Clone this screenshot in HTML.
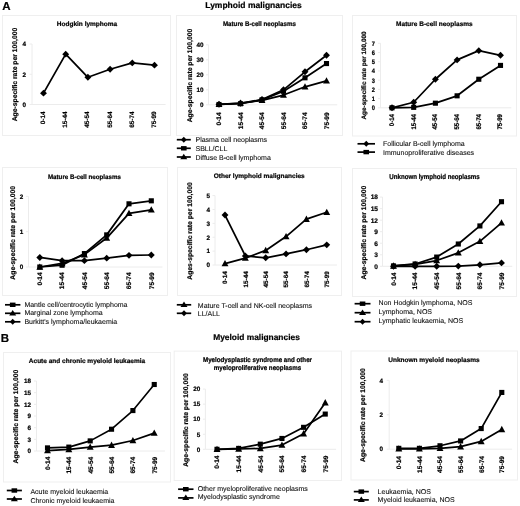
<!DOCTYPE html>
<html><head><meta charset="utf-8"><style>
html,body{margin:0;padding:0;background:#fff;width:520px;height:506px;overflow:hidden}
svg{display:block;text-rendering:geometricPrecision;font-family:"Liberation Sans", sans-serif;filter:grayscale(1) blur(0.35px)}
</style></head><body>
<svg width="520" height="506" viewBox="0 0 520 506">
<rect width="520" height="506" fill="#fff"/>
<text font-size="11.5" font-weight="bold" text-anchor="start" fill="#000" stroke="#000" stroke-width="0.2" transform="translate(2.2 10.3)">A</text>
<text font-size="11.5" font-weight="bold" text-anchor="start" fill="#000" stroke="#000" stroke-width="0.2" transform="translate(0.8 341.6)">B</text>
<text font-size="8.5" font-weight="bold" text-anchor="middle" fill="#000" stroke="#000" stroke-width="0.2" transform="translate(253.5 7.6)">Lymphoid malignancies</text>
<text font-size="8.4" font-weight="bold" text-anchor="middle" fill="#000" stroke="#000" stroke-width="0.2" transform="translate(256.5 339.8)">Myeloid malignancies</text>
<rect x="2.5" y="15.5" width="168" height="120" fill="none" stroke="#efefef" stroke-width="1"/>
<text font-size="6.5" font-weight="bold" text-anchor="middle" fill="#000" stroke="#000" stroke-width="0.2" transform="translate(87 26)">Hodgkin lymphoma</text>
<text font-size="6.8" font-weight="bold" text-anchor="middle" fill="#000" stroke="#000" stroke-width="0.2" transform="translate(17 74.5) rotate(-90)">Age-specific rate per 100,000</text>
<path d="M32 44V104.5H165.6" fill="none" stroke="#ececec" stroke-width="1"/>
<path d="M29.5 104.5H32" stroke="#ececec" stroke-width="1"/>
<text font-size="6.3" font-weight="bold" text-anchor="end" fill="#000" stroke="#000" stroke-width="0.2" transform="translate(26 106.77)">0</text>
<path d="M29.5 74.25H32" stroke="#ececec" stroke-width="1"/>
<text font-size="6.3" font-weight="bold" text-anchor="end" fill="#000" stroke="#000" stroke-width="0.2" transform="translate(26 76.52)">2</text>
<path d="M29.5 44H32" stroke="#ececec" stroke-width="1"/>
<text font-size="6.3" font-weight="bold" text-anchor="end" fill="#000" stroke="#000" stroke-width="0.2" transform="translate(26 46.27)">4</text>
<text font-size="6.4" font-weight="bold" text-anchor="end" fill="#000" stroke="#000" stroke-width="0.2" transform="translate(45 111.5) rotate(-90)">0-14</text>
<text font-size="6.4" font-weight="bold" text-anchor="end" fill="#000" stroke="#000" stroke-width="0.2" transform="translate(67.2 111.5) rotate(-90)">15-44</text>
<text font-size="6.4" font-weight="bold" text-anchor="end" fill="#000" stroke="#000" stroke-width="0.2" transform="translate(89.4 111.5) rotate(-90)">45-54</text>
<text font-size="6.4" font-weight="bold" text-anchor="end" fill="#000" stroke="#000" stroke-width="0.2" transform="translate(111.6 111.5) rotate(-90)">55-64</text>
<text font-size="6.4" font-weight="bold" text-anchor="end" fill="#000" stroke="#000" stroke-width="0.2" transform="translate(133.8 111.5) rotate(-90)">65-74</text>
<text font-size="6.4" font-weight="bold" text-anchor="end" fill="#000" stroke="#000" stroke-width="0.2" transform="translate(156 111.5) rotate(-90)">75-99</text>
<path d="M43.5 93.16L65.7 54.13L87.9 77.28L110.1 69.26L132.3 62.91L154.5 65.17" fill="none" stroke="#000" stroke-width="1.75" stroke-linejoin="round"/>
<path d="M43.5 89.71L46.95 93.16L43.5 96.61L40.05 93.16Z"/>
<path d="M65.7 50.68L69.15 54.13L65.7 57.58L62.25 54.13Z"/>
<path d="M87.9 73.83L91.35 77.28L87.9 80.73L84.45 77.28Z"/>
<path d="M110.1 65.81L113.55 69.26L110.1 72.71L106.65 69.26Z"/>
<path d="M132.3 59.46L135.75 62.91L132.3 66.36L128.85 62.91Z"/>
<path d="M154.5 61.72L157.95 65.17L154.5 68.62L151.05 65.17Z"/>
<rect x="176.5" y="15.5" width="166" height="120" fill="none" stroke="#efefef" stroke-width="1"/>
<text font-size="6.2" font-weight="bold" text-anchor="middle" fill="#000" stroke="#000" stroke-width="0.2" transform="translate(259.4 26) scale(1 1.08)">Mature B-cell neoplasms</text>
<text font-size="6.8" font-weight="bold" text-anchor="middle" fill="#000" stroke="#000" stroke-width="0.2" transform="translate(192 75.5) rotate(-90)">Age-specific rate per 100,000</text>
<path d="M208.5 44.8V104.8H337.25" fill="none" stroke="#ececec" stroke-width="1"/>
<path d="M206 104.8H208.5" stroke="#ececec" stroke-width="1"/>
<text font-size="6.3" font-weight="bold" text-anchor="end" fill="#000" stroke="#000" stroke-width="0.2" transform="translate(203.5 107.07)">0</text>
<path d="M206 89.8H208.5" stroke="#ececec" stroke-width="1"/>
<text font-size="6.3" font-weight="bold" text-anchor="end" fill="#000" stroke="#000" stroke-width="0.2" transform="translate(203.5 92.07)">10</text>
<path d="M206 74.8H208.5" stroke="#ececec" stroke-width="1"/>
<text font-size="6.3" font-weight="bold" text-anchor="end" fill="#000" stroke="#000" stroke-width="0.2" transform="translate(203.5 77.07)">20</text>
<path d="M206 59.8H208.5" stroke="#ececec" stroke-width="1"/>
<text font-size="6.3" font-weight="bold" text-anchor="end" fill="#000" stroke="#000" stroke-width="0.2" transform="translate(203.5 62.07)">30</text>
<path d="M206 44.8H208.5" stroke="#ececec" stroke-width="1"/>
<text font-size="6.3" font-weight="bold" text-anchor="end" fill="#000" stroke="#000" stroke-width="0.2" transform="translate(203.5 47.07)">40</text>
<text font-size="6.6" font-weight="bold" text-anchor="end" fill="#000" stroke="#000" stroke-width="0.2" transform="translate(221.38 112.3) rotate(-90)">0-14</text>
<text font-size="6.6" font-weight="bold" text-anchor="end" fill="#000" stroke="#000" stroke-width="0.2" transform="translate(242.88 112.3) rotate(-90)">15-44</text>
<text font-size="6.6" font-weight="bold" text-anchor="end" fill="#000" stroke="#000" stroke-width="0.2" transform="translate(264.38 112.3) rotate(-90)">45-54</text>
<text font-size="6.6" font-weight="bold" text-anchor="end" fill="#000" stroke="#000" stroke-width="0.2" transform="translate(285.88 112.3) rotate(-90)">55-64</text>
<text font-size="6.6" font-weight="bold" text-anchor="end" fill="#000" stroke="#000" stroke-width="0.2" transform="translate(307.38 112.3) rotate(-90)">65-74</text>
<text font-size="6.6" font-weight="bold" text-anchor="end" fill="#000" stroke="#000" stroke-width="0.2" transform="translate(328.88 112.3) rotate(-90)">75-99</text>
<path d="M219 104.35L240.5 103L262 100.3L283.5 95.05L305 86.8L326.5 80.8" fill="none" stroke="#000" stroke-width="1.75" stroke-linejoin="round"/>
<path d="M219 100.73L222.45 107.11L215.55 107.11Z"/>
<path d="M240.5 99.38L243.95 105.76L237.05 105.76Z"/>
<path d="M262 96.68L265.45 103.06L258.55 103.06Z"/>
<path d="M283.5 91.43L286.95 97.81L280.05 97.81Z"/>
<path d="M305 83.18L308.45 89.56L301.55 89.56Z"/>
<path d="M326.5 77.18L329.95 83.56L323.05 83.56Z"/>
<path d="M219 104.5L240.5 103.75L262 99.85L283.5 91.3L305 77.8L326.5 63.55" fill="none" stroke="#000" stroke-width="1.75" stroke-linejoin="round"/>
<rect x="216.45" y="101.95" width="5.1" height="5.1"/>
<rect x="237.95" y="101.2" width="5.1" height="5.1"/>
<rect x="259.45" y="97.3" width="5.1" height="5.1"/>
<rect x="280.95" y="88.75" width="5.1" height="5.1"/>
<rect x="302.45" y="75.25" width="5.1" height="5.1"/>
<rect x="323.95" y="61" width="5.1" height="5.1"/>
<path d="M219 104.35L240.5 103.3L262 99.55L283.5 89.8L305 71.8L326.5 55.3" fill="none" stroke="#000" stroke-width="1.75" stroke-linejoin="round"/>
<path d="M219 100.9L222.45 104.35L219 107.8L215.55 104.35Z"/>
<path d="M240.5 99.85L243.95 103.3L240.5 106.75L237.05 103.3Z"/>
<path d="M262 96.1L265.45 99.55L262 103L258.55 99.55Z"/>
<path d="M283.5 86.35L286.95 89.8L283.5 93.25L280.05 89.8Z"/>
<path d="M305 68.35L308.45 71.8L305 75.25L301.55 71.8Z"/>
<path d="M326.5 51.85L329.95 55.3L326.5 58.75L323.05 55.3Z"/>
<path d="M176.8 139.7H190.8" stroke="#000" stroke-width="1.7"/>
<path d="M183.8 136.7L186.7 139.7L183.8 142.7L180.9 139.7Z"/>
<text font-size="7" font-weight="normal" text-anchor="start" fill="#111" stroke="#111" stroke-width="0.1" transform="translate(195.5 142.22)">Plasma cell neoplasms</text>
<path d="M176.8 148.3H190.8" stroke="#000" stroke-width="1.7"/>
<rect x="181" y="146.1" width="5.6" height="4.4"/>
<text font-size="7" font-weight="normal" text-anchor="start" fill="#111" stroke="#111" stroke-width="0.1" transform="translate(195.5 150.82)">SBLL/CLL</text>
<path d="M176.8 157H190.8" stroke="#000" stroke-width="1.7"/>
<path d="M183.8 153.7L187.3 159.2L180.3 159.2Z"/>
<text font-size="7" font-weight="normal" text-anchor="start" fill="#111" stroke="#111" stroke-width="0.1" transform="translate(195.5 159.52)">Diffuse B-cell lymphoma</text>
<rect x="352.5" y="15.5" width="164" height="120.5" fill="none" stroke="#efefef" stroke-width="1"/>
<text font-size="6.5" font-weight="bold" text-anchor="middle" fill="#000" stroke="#000" stroke-width="0.2" transform="translate(434.4 25.7)">Mature B-cell neoplasms</text>
<text font-size="6.4" font-weight="bold" text-anchor="middle" fill="#000" stroke="#000" stroke-width="0.2" transform="translate(366.3 75.5) rotate(-90)">Age-specific rate per 100,000</text>
<path d="M380.5 43.3V107.8H511.35" fill="none" stroke="#ececec" stroke-width="1"/>
<path d="M378 107.8H380.5" stroke="#ececec" stroke-width="1"/>
<text font-size="5.7" font-weight="bold" text-anchor="end" fill="#000" stroke="#000" stroke-width="0.2" transform="translate(375 110.16) scale(1 1.15)">0</text>
<path d="M378 98.59H380.5" stroke="#ececec" stroke-width="1"/>
<text font-size="5.7" font-weight="bold" text-anchor="end" fill="#000" stroke="#000" stroke-width="0.2" transform="translate(375 100.95) scale(1 1.15)">1</text>
<path d="M378 89.37H380.5" stroke="#ececec" stroke-width="1"/>
<text font-size="5.7" font-weight="bold" text-anchor="end" fill="#000" stroke="#000" stroke-width="0.2" transform="translate(375 91.73) scale(1 1.15)">2</text>
<path d="M378 80.16H380.5" stroke="#ececec" stroke-width="1"/>
<text font-size="5.7" font-weight="bold" text-anchor="end" fill="#000" stroke="#000" stroke-width="0.2" transform="translate(375 82.52) scale(1 1.15)">3</text>
<path d="M378 70.94H380.5" stroke="#ececec" stroke-width="1"/>
<text font-size="5.7" font-weight="bold" text-anchor="end" fill="#000" stroke="#000" stroke-width="0.2" transform="translate(375 73.3) scale(1 1.15)">4</text>
<path d="M378 61.73H380.5" stroke="#ececec" stroke-width="1"/>
<text font-size="5.7" font-weight="bold" text-anchor="end" fill="#000" stroke="#000" stroke-width="0.2" transform="translate(375 64.09) scale(1 1.15)">5</text>
<path d="M378 52.51H380.5" stroke="#ececec" stroke-width="1"/>
<text font-size="5.7" font-weight="bold" text-anchor="end" fill="#000" stroke="#000" stroke-width="0.2" transform="translate(375 54.87) scale(1 1.15)">6</text>
<path d="M378 43.3H380.5" stroke="#ececec" stroke-width="1"/>
<text font-size="5.7" font-weight="bold" text-anchor="end" fill="#000" stroke="#000" stroke-width="0.2" transform="translate(375 45.66) scale(1 1.15)">7</text>
<text font-size="6.1" font-weight="bold" text-anchor="end" fill="#000" stroke="#000" stroke-width="0.2" transform="translate(393.82 114) rotate(-90) scale(1 1.1)">0-14</text>
<text font-size="6.1" font-weight="bold" text-anchor="end" fill="#000" stroke="#000" stroke-width="0.2" transform="translate(415.52 114) rotate(-90) scale(1 1.1)">15-44</text>
<text font-size="6.1" font-weight="bold" text-anchor="end" fill="#000" stroke="#000" stroke-width="0.2" transform="translate(437.22 114) rotate(-90) scale(1 1.1)">45-54</text>
<text font-size="6.1" font-weight="bold" text-anchor="end" fill="#000" stroke="#000" stroke-width="0.2" transform="translate(458.92 114) rotate(-90) scale(1 1.1)">55-64</text>
<text font-size="6.1" font-weight="bold" text-anchor="end" fill="#000" stroke="#000" stroke-width="0.2" transform="translate(480.62 114) rotate(-90) scale(1 1.1)">65-74</text>
<text font-size="6.1" font-weight="bold" text-anchor="end" fill="#000" stroke="#000" stroke-width="0.2" transform="translate(502.32 114) rotate(-90) scale(1 1.1)">75-99</text>
<path d="M392 107.8L413.7 107.34L435.4 103.19L457.1 95.82L478.8 79.24L500.5 65.41" fill="none" stroke="#000" stroke-width="1.75" stroke-linejoin="round"/>
<rect x="389.45" y="105.25" width="5.1" height="5.1"/>
<rect x="411.15" y="104.79" width="5.1" height="5.1"/>
<rect x="432.85" y="100.64" width="5.1" height="5.1"/>
<rect x="454.55" y="93.27" width="5.1" height="5.1"/>
<rect x="476.25" y="76.69" width="5.1" height="5.1"/>
<rect x="497.95" y="62.86" width="5.1" height="5.1"/>
<path d="M392 107.8L413.7 102.27L435.4 79.24L457.1 59.89L478.8 50.67L500.5 55.28" fill="none" stroke="#000" stroke-width="1.75" stroke-linejoin="round"/>
<path d="M392 104.35L395.45 107.8L392 111.25L388.55 107.8Z"/>
<path d="M413.7 98.82L417.15 102.27L413.7 105.72L410.25 102.27Z"/>
<path d="M435.4 75.79L438.85 79.24L435.4 82.69L431.95 79.24Z"/>
<path d="M457.1 56.44L460.55 59.89L457.1 63.34L453.65 59.89Z"/>
<path d="M478.8 47.22L482.25 50.67L478.8 54.12L475.35 50.67Z"/>
<path d="M500.5 51.83L503.95 55.28L500.5 58.73L497.05 55.28Z"/>
<path d="M357.5 143.8H375" stroke="#000" stroke-width="1.7"/>
<path d="M366.25 140.8L369.15 143.8L366.25 146.8L363.35 143.8Z"/>
<text font-size="7" font-weight="normal" text-anchor="start" fill="#111" stroke="#111" stroke-width="0.1" transform="translate(383 146.32)">Follicular B-cell lymphoma</text>
<path d="M357.5 152.1H375" stroke="#000" stroke-width="1.7"/>
<rect x="363.45" y="149.9" width="5.6" height="4.4"/>
<text font-size="7" font-weight="normal" text-anchor="start" fill="#111" stroke="#111" stroke-width="0.1" transform="translate(383 154.62)">Immunoproliferative diseases</text>
<rect x="2.5" y="167.5" width="165" height="128" fill="none" stroke="#efefef" stroke-width="1"/>
<text font-size="6.2" font-weight="bold" text-anchor="middle" fill="#000" stroke="#000" stroke-width="0.2" transform="translate(84.4 178.6) scale(1 1.05)">Mature B-cell neoplasms</text>
<text font-size="6.8" font-weight="bold" text-anchor="middle" fill="#000" stroke="#000" stroke-width="0.2" transform="translate(15 232.8) rotate(-90)">Age-specific rate per 100,000</text>
<path d="M28.5 196.4V267H162.45" fill="none" stroke="#ececec" stroke-width="1"/>
<path d="M26 267H28.5" stroke="#ececec" stroke-width="1"/>
<text font-size="6.3" font-weight="bold" text-anchor="end" fill="#000" stroke="#000" stroke-width="0.2" transform="translate(23.3 269.27)">0</text>
<path d="M26 231.7H28.5" stroke="#ececec" stroke-width="1"/>
<text font-size="6.3" font-weight="bold" text-anchor="end" fill="#000" stroke="#000" stroke-width="0.2" transform="translate(23.3 233.97)">1</text>
<path d="M26 196.4H28.5" stroke="#ececec" stroke-width="1"/>
<text font-size="6.3" font-weight="bold" text-anchor="end" fill="#000" stroke="#000" stroke-width="0.2" transform="translate(23.3 198.67)">2</text>
<text font-size="6.6" font-weight="bold" text-anchor="end" fill="#000" stroke="#000" stroke-width="0.2" transform="translate(42.18 272.3) rotate(-90)">0-14</text>
<text font-size="6.6" font-weight="bold" text-anchor="end" fill="#000" stroke="#000" stroke-width="0.2" transform="translate(64.48 272.3) rotate(-90)">15-44</text>
<text font-size="6.6" font-weight="bold" text-anchor="end" fill="#000" stroke="#000" stroke-width="0.2" transform="translate(86.78 272.3) rotate(-90)">45-54</text>
<text font-size="6.6" font-weight="bold" text-anchor="end" fill="#000" stroke="#000" stroke-width="0.2" transform="translate(109.08 272.3) rotate(-90)">55-64</text>
<text font-size="6.6" font-weight="bold" text-anchor="end" fill="#000" stroke="#000" stroke-width="0.2" transform="translate(131.38 272.3) rotate(-90)">65-74</text>
<text font-size="6.6" font-weight="bold" text-anchor="end" fill="#000" stroke="#000" stroke-width="0.2" transform="translate(153.68 272.3) rotate(-90)">75-99</text>
<path d="M39.8 257.47L62.1 260.65L84.4 260.65L106.7 258.18L129 255.35L151.3 255" fill="none" stroke="#000" stroke-width="1.75" stroke-linejoin="round"/>
<path d="M39.8 254.02L43.25 257.47L39.8 260.92L36.35 257.47Z"/>
<path d="M62.1 257.2L65.55 260.65L62.1 264.1L58.65 260.65Z"/>
<path d="M84.4 257.2L87.85 260.65L84.4 264.1L80.95 260.65Z"/>
<path d="M106.7 254.73L110.15 258.18L106.7 261.62L103.25 258.18Z"/>
<path d="M129 251.9L132.45 255.35L129 258.8L125.55 255.35Z"/>
<path d="M151.3 251.55L154.75 255L151.3 258.45L147.85 255Z"/>
<path d="M39.8 267L62.1 263.47L84.4 254.65L106.7 238.05L129 213.34L151.3 209.81" fill="none" stroke="#000" stroke-width="1.75" stroke-linejoin="round"/>
<path d="M39.8 263.38L43.25 269.76L36.35 269.76Z"/>
<path d="M62.1 259.85L65.55 266.23L58.65 266.23Z"/>
<path d="M84.4 251.02L87.85 257.41L80.95 257.41Z"/>
<path d="M106.7 234.43L110.15 240.81L103.25 240.81Z"/>
<path d="M129 209.72L132.45 216.1L125.55 216.1Z"/>
<path d="M151.3 206.19L154.75 212.57L147.85 212.57Z"/>
<path d="M39.8 267L62.1 265.24L84.4 253.59L106.7 234.88L129 203.81L151.3 200.81" fill="none" stroke="#000" stroke-width="1.75" stroke-linejoin="round"/>
<rect x="37.25" y="264.45" width="5.1" height="5.1"/>
<rect x="59.55" y="262.69" width="5.1" height="5.1"/>
<rect x="81.85" y="251.04" width="5.1" height="5.1"/>
<rect x="104.15" y="232.33" width="5.1" height="5.1"/>
<rect x="126.45" y="201.26" width="5.1" height="5.1"/>
<rect x="148.75" y="198.26" width="5.1" height="5.1"/>
<path d="M5 304.8H20.4" stroke="#000" stroke-width="1.7"/>
<rect x="9.9" y="302.6" width="5.6" height="4.4"/>
<text font-size="7" font-weight="normal" text-anchor="start" fill="#111" stroke="#111" stroke-width="0.1" transform="translate(24.4 306.92)">Mantle cell/centrocytic lymphoma</text>
<path d="M5 313.3H20.4" stroke="#000" stroke-width="1.7"/>
<path d="M12.7 310L16.2 315.5L9.2 315.5Z"/>
<text font-size="7" font-weight="normal" text-anchor="start" fill="#111" stroke="#111" stroke-width="0.1" transform="translate(24.4 315.42)">Marginal zone lymphoma</text>
<path d="M5 321.8H20.4" stroke="#000" stroke-width="1.7"/>
<path d="M12.7 318.8L15.6 321.8L12.7 324.8L9.8 321.8Z"/>
<text font-size="7" font-weight="normal" text-anchor="start" fill="#111" stroke="#111" stroke-width="0.1" transform="translate(24.4 323.92)">Burkitt's lymphoma/leukaemia</text>
<rect x="177.5" y="167.5" width="164" height="128" fill="none" stroke="#efefef" stroke-width="1"/>
<text font-size="6.5" font-weight="bold" text-anchor="middle" fill="#000" stroke="#000" stroke-width="0.2" transform="translate(259.2 177.7)">Other lymphoid malignancies</text>
<text font-size="6.8" font-weight="bold" text-anchor="middle" fill="#000" stroke="#000" stroke-width="0.2" transform="translate(191.8 231) rotate(-90)">Ages-specific rate per 100,000</text>
<path d="M215 195.6V265H336.93" fill="none" stroke="#ececec" stroke-width="1"/>
<path d="M212.5 265H215" stroke="#ececec" stroke-width="1"/>
<text font-size="6.3" font-weight="bold" text-anchor="end" fill="#000" stroke="#000" stroke-width="0.2" transform="translate(210 267.27)">0</text>
<path d="M212.5 251.12H215" stroke="#ececec" stroke-width="1"/>
<text font-size="6.3" font-weight="bold" text-anchor="end" fill="#000" stroke="#000" stroke-width="0.2" transform="translate(210 253.39)">1</text>
<path d="M212.5 237.24H215" stroke="#ececec" stroke-width="1"/>
<text font-size="6.3" font-weight="bold" text-anchor="end" fill="#000" stroke="#000" stroke-width="0.2" transform="translate(210 239.51)">2</text>
<path d="M212.5 223.36H215" stroke="#ececec" stroke-width="1"/>
<text font-size="6.3" font-weight="bold" text-anchor="end" fill="#000" stroke="#000" stroke-width="0.2" transform="translate(210 225.63)">3</text>
<path d="M212.5 209.48H215" stroke="#ececec" stroke-width="1"/>
<text font-size="6.3" font-weight="bold" text-anchor="end" fill="#000" stroke="#000" stroke-width="0.2" transform="translate(210 211.75)">4</text>
<path d="M212.5 195.6H215" stroke="#ececec" stroke-width="1"/>
<text font-size="6.3" font-weight="bold" text-anchor="end" fill="#000" stroke="#000" stroke-width="0.2" transform="translate(210 197.87)">5</text>
<text font-size="6.3" font-weight="bold" text-anchor="end" fill="#000" stroke="#000" stroke-width="0.2" transform="translate(227.27 271.3) rotate(-90)">0-14</text>
<text font-size="6.3" font-weight="bold" text-anchor="end" fill="#000" stroke="#000" stroke-width="0.2" transform="translate(247.62 271.3) rotate(-90)">15-44</text>
<text font-size="6.3" font-weight="bold" text-anchor="end" fill="#000" stroke="#000" stroke-width="0.2" transform="translate(267.97 271.3) rotate(-90)">45-54</text>
<text font-size="6.3" font-weight="bold" text-anchor="end" fill="#000" stroke="#000" stroke-width="0.2" transform="translate(288.32 271.3) rotate(-90)">55-64</text>
<text font-size="6.3" font-weight="bold" text-anchor="end" fill="#000" stroke="#000" stroke-width="0.2" transform="translate(308.67 271.3) rotate(-90)">65-74</text>
<text font-size="6.3" font-weight="bold" text-anchor="end" fill="#000" stroke="#000" stroke-width="0.2" transform="translate(329.02 271.3) rotate(-90)">75-99</text>
<path d="M225 263.61L245.35 258.06L265.7 250.43L286.05 236.55L306.4 219.2L326.75 212.26" fill="none" stroke="#000" stroke-width="1.75" stroke-linejoin="round"/>
<path d="M225 259.99L228.45 266.37L221.55 266.37Z"/>
<path d="M245.35 254.44L248.8 260.82L241.9 260.82Z"/>
<path d="M265.7 246.8L269.15 253.19L262.25 253.19Z"/>
<path d="M286.05 232.92L289.5 239.31L282.6 239.31Z"/>
<path d="M306.4 215.57L309.85 221.96L302.95 221.96Z"/>
<path d="M326.75 208.63L330.2 215.02L323.3 215.02Z"/>
<path d="M225 215.03L245.35 255.98L265.7 257.78L286.05 253.9L306.4 249.73L326.75 244.87" fill="none" stroke="#000" stroke-width="1.75" stroke-linejoin="round"/>
<path d="M225 211.58L228.45 215.03L225 218.48L221.55 215.03Z"/>
<path d="M245.35 252.53L248.8 255.98L245.35 259.43L241.9 255.98Z"/>
<path d="M265.7 254.33L269.15 257.78L265.7 261.23L262.25 257.78Z"/>
<path d="M286.05 250.45L289.5 253.9L286.05 257.35L282.6 253.9Z"/>
<path d="M306.4 246.28L309.85 249.73L306.4 253.18L302.95 249.73Z"/>
<path d="M326.75 241.42L330.2 244.87L326.75 248.32L323.3 244.87Z"/>
<path d="M176.8 304.8H191.2" stroke="#000" stroke-width="1.7"/>
<path d="M184 301.5L187.5 307L180.5 307Z"/>
<text font-size="7" font-weight="normal" text-anchor="start" fill="#111" stroke="#111" stroke-width="0.1" transform="translate(197.8 307.82)">Mature T-cell and NK-cell neoplasms</text>
<path d="M176.8 313.3H191.2" stroke="#000" stroke-width="1.7"/>
<path d="M184 310.3L186.9 313.3L184 316.3L181.1 313.3Z"/>
<text font-size="7" font-weight="normal" text-anchor="start" fill="#111" stroke="#111" stroke-width="0.1" transform="translate(197.8 316.32)">LL/ALL</text>
<rect x="352.5" y="168.5" width="164" height="128" fill="none" stroke="#efefef" stroke-width="1"/>
<text font-size="6.15" font-weight="bold" text-anchor="middle" fill="#000" stroke="#000" stroke-width="0.2" transform="translate(434.5 178.7) scale(1 1.15)">Unknown lymphoid neoplasms</text>
<text font-size="6.8" font-weight="bold" text-anchor="middle" fill="#000" stroke="#000" stroke-width="0.2" transform="translate(366.3 232.6) rotate(-90)">Age-specific rate per 100,000</text>
<path d="M382.5 197.1V266.3H512.3" fill="none" stroke="#ececec" stroke-width="1"/>
<path d="M380 266.3H382.5" stroke="#ececec" stroke-width="1"/>
<text font-size="6.6" font-weight="bold" text-anchor="end" fill="#000" stroke="#000" stroke-width="0.2" transform="translate(378 268.68)">0</text>
<path d="M380 254.77H382.5" stroke="#ececec" stroke-width="1"/>
<text font-size="6.6" font-weight="bold" text-anchor="end" fill="#000" stroke="#000" stroke-width="0.2" transform="translate(378 257.14)">3</text>
<path d="M380 243.23H382.5" stroke="#ececec" stroke-width="1"/>
<text font-size="6.6" font-weight="bold" text-anchor="end" fill="#000" stroke="#000" stroke-width="0.2" transform="translate(378 245.61)">6</text>
<path d="M380 231.7H382.5" stroke="#ececec" stroke-width="1"/>
<text font-size="6.6" font-weight="bold" text-anchor="end" fill="#000" stroke="#000" stroke-width="0.2" transform="translate(378 234.08)">9</text>
<path d="M380 220.17H382.5" stroke="#ececec" stroke-width="1"/>
<text font-size="6.6" font-weight="bold" text-anchor="end" fill="#000" stroke="#000" stroke-width="0.2" transform="translate(378 222.54)">12</text>
<path d="M380 208.63H382.5" stroke="#ececec" stroke-width="1"/>
<text font-size="6.6" font-weight="bold" text-anchor="end" fill="#000" stroke="#000" stroke-width="0.2" transform="translate(378 211.01)">15</text>
<path d="M380 197.1H382.5" stroke="#ececec" stroke-width="1"/>
<text font-size="6.6" font-weight="bold" text-anchor="end" fill="#000" stroke="#000" stroke-width="0.2" transform="translate(378 199.48)">18</text>
<text font-size="6.6" font-weight="bold" text-anchor="end" fill="#000" stroke="#000" stroke-width="0.2" transform="translate(395.88 272.5) rotate(-90)">0-14</text>
<text font-size="6.6" font-weight="bold" text-anchor="end" fill="#000" stroke="#000" stroke-width="0.2" transform="translate(417.48 272.5) rotate(-90)">15-44</text>
<text font-size="6.6" font-weight="bold" text-anchor="end" fill="#000" stroke="#000" stroke-width="0.2" transform="translate(439.08 272.5) rotate(-90)">45-54</text>
<text font-size="6.6" font-weight="bold" text-anchor="end" fill="#000" stroke="#000" stroke-width="0.2" transform="translate(460.68 272.5) rotate(-90)">55-64</text>
<text font-size="6.6" font-weight="bold" text-anchor="end" fill="#000" stroke="#000" stroke-width="0.2" transform="translate(482.28 272.5) rotate(-90)">65-74</text>
<text font-size="6.6" font-weight="bold" text-anchor="end" fill="#000" stroke="#000" stroke-width="0.2" transform="translate(503.88 272.5) rotate(-90)">75-99</text>
<path d="M393.5 266.3L415.1 266.3L436.7 266.3L458.3 266.11L479.9 264.76L501.5 262.92" fill="none" stroke="#000" stroke-width="1.75" stroke-linejoin="round"/>
<path d="M393.5 262.85L396.95 266.3L393.5 269.75L390.05 266.3Z"/>
<path d="M415.1 262.85L418.55 266.3L415.1 269.75L411.65 266.3Z"/>
<path d="M436.7 262.85L440.15 266.3L436.7 269.75L433.25 266.3Z"/>
<path d="M458.3 262.66L461.75 266.11L458.3 269.56L454.85 266.11Z"/>
<path d="M479.9 261.31L483.35 264.76L479.9 268.21L476.45 264.76Z"/>
<path d="M501.5 259.47L504.95 262.92L501.5 266.37L498.05 262.92Z"/>
<path d="M393.5 265.92L415.1 264.38L436.7 260.53L458.3 252.84L479.9 241.31L501.5 222.86" fill="none" stroke="#000" stroke-width="1.75" stroke-linejoin="round"/>
<path d="M393.5 262.29L396.95 268.68L390.05 268.68Z"/>
<path d="M415.1 260.76L418.55 267.14L411.65 267.14Z"/>
<path d="M436.7 256.91L440.15 263.29L433.25 263.29Z"/>
<path d="M458.3 249.22L461.75 255.6L454.85 255.6Z"/>
<path d="M479.9 237.69L483.35 244.07L476.45 244.07Z"/>
<path d="M501.5 219.24L504.95 225.62L498.05 225.62Z"/>
<path d="M393.5 265.92L415.1 263.99L436.7 257.07L458.3 244L479.9 225.93L501.5 201.71" fill="none" stroke="#000" stroke-width="1.75" stroke-linejoin="round"/>
<rect x="390.95" y="263.37" width="5.1" height="5.1"/>
<rect x="412.55" y="261.44" width="5.1" height="5.1"/>
<rect x="434.15" y="254.52" width="5.1" height="5.1"/>
<rect x="455.75" y="241.45" width="5.1" height="5.1"/>
<rect x="477.35" y="223.38" width="5.1" height="5.1"/>
<rect x="498.95" y="199.16" width="5.1" height="5.1"/>
<path d="M354.6 303.7H370.5" stroke="#000" stroke-width="1.7"/>
<rect x="359.75" y="301.5" width="5.6" height="4.4"/>
<text font-size="7" font-weight="normal" text-anchor="start" fill="#111" stroke="#111" stroke-width="0.1" transform="translate(378.6 305.12)">Non Hodgkin lymphoma, NOS</text>
<path d="M354.6 312.7H370.5" stroke="#000" stroke-width="1.7"/>
<path d="M362.55 309.4L366.05 314.9L359.05 314.9Z"/>
<text font-size="7" font-weight="normal" text-anchor="start" fill="#111" stroke="#111" stroke-width="0.1" transform="translate(378.6 314.12)">Lymphoma, NOS</text>
<path d="M354.6 321.7H370.5" stroke="#000" stroke-width="1.7"/>
<path d="M362.55 318.7L365.45 321.7L362.55 324.7L359.65 321.7Z"/>
<text font-size="7" font-weight="normal" text-anchor="start" fill="#111" stroke="#111" stroke-width="0.1" transform="translate(378.6 323.12)">Lymphatic leukaemia, NOS</text>
<rect x="3.5" y="352.5" width="167" height="129.5" fill="none" stroke="#efefef" stroke-width="1"/>
<text font-size="6.5" font-weight="bold" text-anchor="middle" fill="#000" stroke="#000" stroke-width="0.2" transform="translate(87 363)">Acute and chronic myeloid leukaemia</text>
<text font-size="6.8" font-weight="bold" text-anchor="middle" fill="#000" stroke="#000" stroke-width="0.2" transform="translate(18.1 416.6) rotate(-90)">Age-specific rate per 100,000</text>
<path d="M36.5 381V451H164.93" fill="none" stroke="#ececec" stroke-width="1"/>
<path d="M34 451H36.5" stroke="#ececec" stroke-width="1"/>
<text font-size="6.3" font-weight="bold" text-anchor="end" fill="#000" stroke="#000" stroke-width="0.2" transform="translate(31 453.27)">0</text>
<path d="M34 439.33H36.5" stroke="#ececec" stroke-width="1"/>
<text font-size="6.3" font-weight="bold" text-anchor="end" fill="#000" stroke="#000" stroke-width="0.2" transform="translate(31 441.6)">3</text>
<path d="M34 427.67H36.5" stroke="#ececec" stroke-width="1"/>
<text font-size="6.3" font-weight="bold" text-anchor="end" fill="#000" stroke="#000" stroke-width="0.2" transform="translate(31 429.93)">6</text>
<path d="M34 416H36.5" stroke="#ececec" stroke-width="1"/>
<text font-size="6.3" font-weight="bold" text-anchor="end" fill="#000" stroke="#000" stroke-width="0.2" transform="translate(31 418.27)">9</text>
<path d="M34 404.33H36.5" stroke="#ececec" stroke-width="1"/>
<text font-size="6.3" font-weight="bold" text-anchor="end" fill="#000" stroke="#000" stroke-width="0.2" transform="translate(31 406.6)">12</text>
<path d="M34 392.67H36.5" stroke="#ececec" stroke-width="1"/>
<text font-size="6.3" font-weight="bold" text-anchor="end" fill="#000" stroke="#000" stroke-width="0.2" transform="translate(31 394.93)">15</text>
<path d="M34 381H36.5" stroke="#ececec" stroke-width="1"/>
<text font-size="6.3" font-weight="bold" text-anchor="end" fill="#000" stroke="#000" stroke-width="0.2" transform="translate(31 383.27)">18</text>
<text font-size="6.6" font-weight="bold" text-anchor="end" fill="#000" stroke="#000" stroke-width="0.2" transform="translate(49.88 456.7) rotate(-90)">0-14</text>
<text font-size="6.6" font-weight="bold" text-anchor="end" fill="#000" stroke="#000" stroke-width="0.2" transform="translate(71.23 456.7) rotate(-90)">15-44</text>
<text font-size="6.6" font-weight="bold" text-anchor="end" fill="#000" stroke="#000" stroke-width="0.2" transform="translate(92.58 456.7) rotate(-90)">45-54</text>
<text font-size="6.6" font-weight="bold" text-anchor="end" fill="#000" stroke="#000" stroke-width="0.2" transform="translate(113.93 456.7) rotate(-90)">55-64</text>
<text font-size="6.6" font-weight="bold" text-anchor="end" fill="#000" stroke="#000" stroke-width="0.2" transform="translate(135.28 456.7) rotate(-90)">65-74</text>
<text font-size="6.6" font-weight="bold" text-anchor="end" fill="#000" stroke="#000" stroke-width="0.2" transform="translate(156.63 456.7) rotate(-90)">75-99</text>
<path d="M47.5 450.61L68.85 449.44L90.2 447.11L111.55 445.17L132.9 440.5L154.25 433.11" fill="none" stroke="#000" stroke-width="1.65" stroke-linejoin="round"/>
<path d="M47.5 446.99L50.95 453.37L44.05 453.37Z"/>
<path d="M68.85 445.82L72.3 452.2L65.4 452.2Z"/>
<path d="M90.2 443.49L93.65 449.87L86.75 449.87Z"/>
<path d="M111.55 441.54L115 447.93L108.1 447.93Z"/>
<path d="M132.9 436.88L136.35 443.26L129.45 443.26Z"/>
<path d="M154.25 429.49L157.7 435.87L150.8 435.87Z"/>
<path d="M47.5 447.89L68.85 447.11L90.2 440.89L111.55 429.22L132.9 410.56L154.25 384.5" fill="none" stroke="#000" stroke-width="1.65" stroke-linejoin="round"/>
<rect x="44.95" y="445.34" width="5.1" height="5.1"/>
<rect x="66.3" y="444.56" width="5.1" height="5.1"/>
<rect x="87.65" y="438.34" width="5.1" height="5.1"/>
<rect x="109" y="426.67" width="5.1" height="5.1"/>
<rect x="130.35" y="408.01" width="5.1" height="5.1"/>
<rect x="151.7" y="381.95" width="5.1" height="5.1"/>
<path d="M6.8 490.5H21.9" stroke="#000" stroke-width="1.7"/>
<rect x="11.55" y="488.3" width="5.6" height="4.4"/>
<text font-size="7" font-weight="normal" text-anchor="start" fill="#111" stroke="#111" stroke-width="0.1" transform="translate(30.4 494.22)">Acute myeloid leukaemia</text>
<path d="M6.8 499H21.9" stroke="#000" stroke-width="1.7"/>
<path d="M14.35 495.7L17.85 501.2L10.85 501.2Z"/>
<text font-size="7" font-weight="normal" text-anchor="start" fill="#111" stroke="#111" stroke-width="0.1" transform="translate(30.4 502.72)">Chronic myeloid leukaemia</text>
<rect x="174.2" y="351.1" width="167.3" height="129.4" fill="none" stroke="#efefef" stroke-width="1"/>
<text font-size="6.2" font-weight="bold" text-anchor="middle" fill="#000" stroke="#000" stroke-width="0.2" transform="translate(257.5 361.6) scale(1 1.1)">Myelodysplastic syndrome and other</text>
<text font-size="6.2" font-weight="bold" text-anchor="middle" fill="#000" stroke="#000" stroke-width="0.2" transform="translate(257.5 370.4) scale(1 1.1)">myeloproliferative neoplasms</text>
<text font-size="6.8" font-weight="bold" text-anchor="middle" fill="#000" stroke="#000" stroke-width="0.2" transform="translate(187.5 420) rotate(-90)">Age-specific rate per 100,000</text>
<path d="M205.4 389.1V449.3H336.07" fill="none" stroke="#ececec" stroke-width="1"/>
<path d="M202.9 449.3H205.4" stroke="#ececec" stroke-width="1"/>
<text font-size="6.3" font-weight="bold" text-anchor="end" fill="#000" stroke="#000" stroke-width="0.2" transform="translate(200.3 451.57)">0</text>
<path d="M202.9 434.25H205.4" stroke="#ececec" stroke-width="1"/>
<text font-size="6.3" font-weight="bold" text-anchor="end" fill="#000" stroke="#000" stroke-width="0.2" transform="translate(200.3 436.52)">5</text>
<path d="M202.9 419.2H205.4" stroke="#ececec" stroke-width="1"/>
<text font-size="6.3" font-weight="bold" text-anchor="end" fill="#000" stroke="#000" stroke-width="0.2" transform="translate(200.3 421.47)">10</text>
<path d="M202.9 404.15H205.4" stroke="#ececec" stroke-width="1"/>
<text font-size="6.3" font-weight="bold" text-anchor="end" fill="#000" stroke="#000" stroke-width="0.2" transform="translate(200.3 406.42)">15</text>
<path d="M202.9 389.1H205.4" stroke="#ececec" stroke-width="1"/>
<text font-size="6.3" font-weight="bold" text-anchor="end" fill="#000" stroke="#000" stroke-width="0.2" transform="translate(200.3 391.37)">20</text>
<text font-size="6.6" font-weight="bold" text-anchor="end" fill="#000" stroke="#000" stroke-width="0.2" transform="translate(219.38 455.5) rotate(-90)">0-14</text>
<text font-size="6.6" font-weight="bold" text-anchor="end" fill="#000" stroke="#000" stroke-width="0.2" transform="translate(241.03 455.5) rotate(-90)">15-44</text>
<text font-size="6.6" font-weight="bold" text-anchor="end" fill="#000" stroke="#000" stroke-width="0.2" transform="translate(262.68 455.5) rotate(-90)">45-54</text>
<text font-size="6.6" font-weight="bold" text-anchor="end" fill="#000" stroke="#000" stroke-width="0.2" transform="translate(284.33 455.5) rotate(-90)">55-64</text>
<text font-size="6.6" font-weight="bold" text-anchor="end" fill="#000" stroke="#000" stroke-width="0.2" transform="translate(305.98 455.5) rotate(-90)">65-74</text>
<text font-size="6.6" font-weight="bold" text-anchor="end" fill="#000" stroke="#000" stroke-width="0.2" transform="translate(327.63 455.5) rotate(-90)">75-99</text>
<path d="M217 449.3L238.65 449L260.3 448.4L281.95 445.09L303.6 433.65L325.25 402.65" fill="none" stroke="#000" stroke-width="1.75" stroke-linejoin="round"/>
<path d="M217 445.68L220.45 452.06L213.55 452.06Z"/>
<path d="M238.65 445.38L242.1 451.76L235.2 451.76Z"/>
<path d="M260.3 444.77L263.75 451.16L256.85 451.16Z"/>
<path d="M281.95 441.46L285.4 447.85L278.5 447.85Z"/>
<path d="M303.6 430.03L307.05 436.41L300.15 436.41Z"/>
<path d="M325.25 399.02L328.7 405.41L321.8 405.41Z"/>
<path d="M217 449.3L238.65 448.4L260.3 444.18L281.95 438.46L303.6 427.33L325.25 414.08" fill="none" stroke="#000" stroke-width="1.75" stroke-linejoin="round"/>
<rect x="214.45" y="446.75" width="5.1" height="5.1"/>
<rect x="236.1" y="445.85" width="5.1" height="5.1"/>
<rect x="257.75" y="441.63" width="5.1" height="5.1"/>
<rect x="279.4" y="435.91" width="5.1" height="5.1"/>
<rect x="301.05" y="424.78" width="5.1" height="5.1"/>
<rect x="322.7" y="411.53" width="5.1" height="5.1"/>
<path d="M178.1 489.2H193.5" stroke="#000" stroke-width="1.7"/>
<rect x="183" y="487" width="5.6" height="4.4"/>
<text font-size="7" font-weight="normal" text-anchor="start" fill="#111" stroke="#111" stroke-width="0.1" transform="translate(197.7 490.62)">Other myeloproliferative neoplasms</text>
<path d="M178.1 497.9H193.5" stroke="#000" stroke-width="1.7"/>
<path d="M185.8 494.6L189.3 500.1L182.3 500.1Z"/>
<text font-size="7" font-weight="normal" text-anchor="start" fill="#111" stroke="#111" stroke-width="0.1" transform="translate(197.7 499.32)">Myelodysplastic syndrome</text>
<rect x="351" y="351" width="166.5" height="129" fill="none" stroke="#efefef" stroke-width="1"/>
<text font-size="6.5" font-weight="bold" text-anchor="middle" fill="#000" stroke="#000" stroke-width="0.2" transform="translate(434 361.9)">Unknown myeloid neoplasms</text>
<text font-size="6.8" font-weight="bold" text-anchor="middle" fill="#000" stroke="#000" stroke-width="0.2" transform="translate(365.2 415.1) rotate(-90)">Age-specific rate per 100,000</text>
<path d="M389.2 380.4V449.2H512.1" fill="none" stroke="#ececec" stroke-width="1"/>
<path d="M386.7 449.2H389.2" stroke="#ececec" stroke-width="1"/>
<text font-size="6.3" font-weight="bold" text-anchor="end" fill="#000" stroke="#000" stroke-width="0.2" transform="translate(383 451.47)">0</text>
<path d="M386.7 414.8H389.2" stroke="#ececec" stroke-width="1"/>
<text font-size="6.3" font-weight="bold" text-anchor="end" fill="#000" stroke="#000" stroke-width="0.2" transform="translate(383 417.07)">2</text>
<path d="M386.7 380.4H389.2" stroke="#ececec" stroke-width="1"/>
<text font-size="6.3" font-weight="bold" text-anchor="end" fill="#000" stroke="#000" stroke-width="0.2" transform="translate(383 382.67)">4</text>
<text font-size="6.6" font-weight="bold" text-anchor="end" fill="#000" stroke="#000" stroke-width="0.2" transform="translate(401.18 456) rotate(-90)">0-14</text>
<text font-size="6.6" font-weight="bold" text-anchor="end" fill="#000" stroke="#000" stroke-width="0.2" transform="translate(421.78 456) rotate(-90)">15-44</text>
<text font-size="6.6" font-weight="bold" text-anchor="end" fill="#000" stroke="#000" stroke-width="0.2" transform="translate(442.38 456) rotate(-90)">45-54</text>
<text font-size="6.6" font-weight="bold" text-anchor="end" fill="#000" stroke="#000" stroke-width="0.2" transform="translate(462.98 456) rotate(-90)">55-64</text>
<text font-size="6.6" font-weight="bold" text-anchor="end" fill="#000" stroke="#000" stroke-width="0.2" transform="translate(483.58 456) rotate(-90)">65-74</text>
<text font-size="6.6" font-weight="bold" text-anchor="end" fill="#000" stroke="#000" stroke-width="0.2" transform="translate(504.18 456) rotate(-90)">75-99</text>
<path d="M398.8 448.86L419.4 448.86L440 448.34L460.6 446.62L481.2 441.46L501.8 429.42" fill="none" stroke="#000" stroke-width="1.75" stroke-linejoin="round"/>
<path d="M398.8 445.23L402.25 451.62L395.35 451.62Z"/>
<path d="M419.4 445.23L422.85 451.62L415.95 451.62Z"/>
<path d="M440 444.72L443.45 451.1L436.55 451.1Z"/>
<path d="M460.6 443L464.05 449.38L457.15 449.38Z"/>
<path d="M481.2 437.84L484.65 444.22L477.75 444.22Z"/>
<path d="M501.8 425.8L505.25 432.18L498.35 432.18Z"/>
<path d="M398.8 448.34L419.4 448.34L440 445.76L460.6 440.94L481.2 428.56L501.8 392.44" fill="none" stroke="#000" stroke-width="1.75" stroke-linejoin="round"/>
<rect x="396.25" y="445.79" width="5.1" height="5.1"/>
<rect x="416.85" y="445.79" width="5.1" height="5.1"/>
<rect x="437.45" y="443.21" width="5.1" height="5.1"/>
<rect x="458.05" y="438.39" width="5.1" height="5.1"/>
<rect x="478.65" y="426.01" width="5.1" height="5.1"/>
<rect x="499.25" y="389.89" width="5.1" height="5.1"/>
<path d="M353.8 491.6H368.8" stroke="#000" stroke-width="1.7"/>
<rect x="358.5" y="489.4" width="5.6" height="4.4"/>
<text font-size="7" font-weight="normal" text-anchor="start" fill="#111" stroke="#111" stroke-width="0.1" transform="translate(377.6 493.72)">Leukaemia, NOS</text>
<path d="M353.8 499.9H368.8" stroke="#000" stroke-width="1.7"/>
<path d="M361.3 496.6L364.8 502.1L357.8 502.1Z"/>
<text font-size="7" font-weight="normal" text-anchor="start" fill="#111" stroke="#111" stroke-width="0.1" transform="translate(377.6 502.02)">Myeloid leukaemia, NOS</text>
</svg>
</body></html>
